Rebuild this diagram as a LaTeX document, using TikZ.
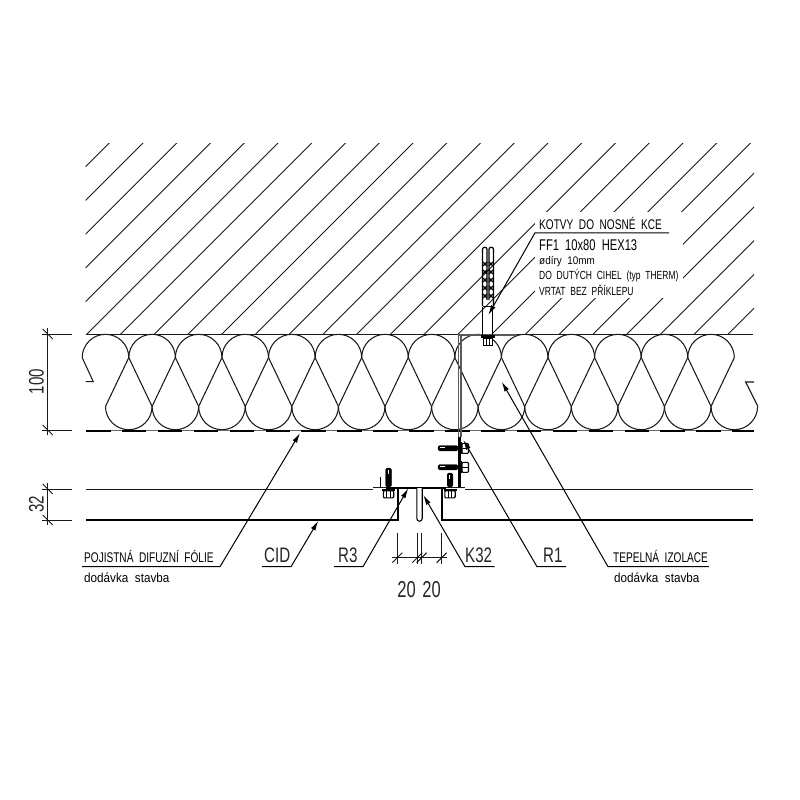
\documentclass[tikz,border=0pt]{standalone}
\usepackage{fontspec}
\setmainfont[FakeStretch=0.72,WordSpace=2]{Liberation Sans}
\newfontfamily\widefont[FakeStretch=0.9,WordSpace=2]{Liberation Sans}
\usetikzlibrary{arrows.meta}
\tikzset{
  thinline/.style={line width=.95pt,black!90},
  wool/.style={line width=1.05pt,black!90},
  heavyline/.style={line width=2pt,black},
  foil/.style={line width=2.2pt,black,dash pattern=on 24.5pt off 11.4pt},
  leader/.style={line width=1pt,-{Latex[length=10pt,width=5pt]}},
  dimtext/.style={inner sep=0pt,font=\fontsize{21}{21}\selectfont,black!85},
  captext/.style={inner sep=0pt,anchor=base west,font=\fontsize{14}{14}\selectfont},
  smalltext/.style={inner sep=0pt,anchor=base west,font=\fontsize{11.8}{12}\selectfont},
  lowtext/.style={inner sep=0pt,anchor=base west,font=\widefont\fontsize{13}{13}\selectfont},
}
\begin{document}
\begin{tikzpicture}[x=1pt,y=-1pt]
    \useasboundingbox (0,0) rectangle (800,800);
    \fill[white] (0,0) rectangle (800,800);

    % hatching of the wall
    \begin{scope}
      \clip (85.5,143.3) rectangle (754,334);
      \foreach \n in {0,...,24} \draw[thinline] ({252.3+33.75*\n},0) -- ({252.3+33.75*\n-400},400);
    \end{scope}
    \fill[white] (535,212) rectangle (683,298);
    \draw[thinline] (86,334) -- (753,334);

    % insulation
    \foreach \k in {0,...,13}{
      \pgfmathsetmacro\xa{105.5+46.58*\k}
      \pgfmathsetmacro\xb{\xa+23.29}
      \draw[wool] (\xa-23.29,357.6) arc[start angle=180,end angle=360,radius=23.29];
      \draw[wool] (\xb-23.29,406.4) arc[start angle=180,end angle=0,radius=23.29];
      \draw[wool] (\xb,357.6) -- (\xa,406.4);
    }
    \foreach \k in {0,...,12} \draw[wool] ({128.79+46.58*\k},357.6) -- ({152.08+46.58*\k},406.4);
    \draw[wool] (82.2,357.6) -- (93.3,381.7) -- (85.7,381.7);
    \draw[wool] (757.9,406.4) -- (745.7,382) -- (754,382);

    % foil and cladding
    \draw[thinline,black!60] (86,430) -- (753,430);
    \draw[foil] (86,431) -- (754,431);
    \draw[thinline] (86,489) -- (373,489);
    \draw[thinline] (465,489) -- (753,489);
    \draw[heavyline] (86,519.6) -- (397.7,519.6) -- (397.7,489);
    \draw[heavyline] (441.7,489) -- (441.7,519.6) -- (753,519.6);

    % R1 bracket
    \draw[line width=1.1pt,black!65] (517,335) -- (458.3,335) -- (458.3,437);
    \draw[line width=1.1pt,black!65] (461,336) -- (461,437);
    \draw[line width=3pt] (459.4,437) -- (459.4,487);
    \foreach \by in {448.3,467.3}{
      \draw[shift={(458,\by)},fill=black,rounded corners=1.5pt] (0,-2.6) -- (-20,-2.6) -- (-20,2.6) -- (0,2.6) -- cycle;
      \draw[shift={(458,\by)},white,line width=.8pt] (-18.5,-.6) -- (-13,-.6);
      \draw[shift={(458,\by)},line width=1.6pt] (3.4,-6) -- (3.4,6);
      \draw[shift={(458,\by)},fill=white,line width=1.1pt,rounded corners=1pt] (4,-5) rectangle (10.5,5);
      \draw[shift={(458,\by)},line width=.8pt] (4,0) -- (10.5,0);
    }

    % R3 profile
    \draw[thinline] (373,487.8) -- (465,487.8);
    \draw[heavyline] (386,487.6) -- (446,487.6);
    \draw[line width=1.1pt] (380.7,477) -- (380.7,487);
    \draw[line width=1.1pt,fill=white] (416.8,488) -- (416.8,518.5) arc[start angle=180,end angle=0,radius=2.7] -- (422.2,488);
    \foreach \bx/\btop in {388.5/468,450/473}{
      \draw[shift={(\bx,487)},fill=black,rounded corners=1.5pt] (-2.8,0) -- (-2.8,\btop-487) -- (2.8,\btop-487) -- (2.8,0) -- cycle;
      \draw[shift={(\bx,487)},white,line width=.8pt] (-.6,\btop-485) -- (-.6,\btop-481);
      \draw[shift={(\bx,487)},line width=2pt] (-6.5,2.6) -- (6.5,2.6);
      \draw[shift={(\bx,487)},fill=white,line width=1.1pt,rounded corners=1pt] (-5.2,3.8) rectangle (5.2,10.8);
      \draw[shift={(\bx,487)},line width=.8pt] (-1.7,3.8) -- (-1.7,10.8) (1.7,3.8) -- (1.7,10.8);
    }

    % FF1 anchor
    \draw[line width=1.2pt,rounded corners=2pt] (482.5,306) -- (482.5,247.3) -- (487,247.3) -- (487,300);
    \draw[line width=1.2pt,rounded corners=2pt] (489,300) -- (489,247.3) -- (493.5,247.3) -- (493.5,306);
    \foreach \ay in {264,272,280,288,296}{
      \draw[line width=1.1pt] (483,\ay-2) -- (487,\ay+2) (483,\ay+2) -- (487,\ay-2);
      \draw[line width=1.1pt] (489,\ay-2) -- (493,\ay+2) (489,\ay+2) -- (493,\ay-2);
    }
    \draw[line width=1.2pt] (482.7,306.7) -- (493.3,306.7);
    \draw[line width=1.2pt] (482.7,306.7) -- (482.7,335) (492.7,306.7) -- (492.7,335);
    \draw[line width=2.8pt] (481,336.6) -- (495,336.6);
    \draw[fill=white,line width=1pt] (483,338) rectangle (492.5,345);
    \draw[line width=.8pt] (486,338) -- (486,345) (489.5,338) -- (489.5,345);

    % dimensions
    \foreach \dy in {334,430,489,520} \draw[thinline] (42,\dy) -- (72,\dy);
    \foreach \dy in {334,430,489,520} \draw[thinline] (42.7,\dy-5) -- (52.7,\dy+5);
    \draw[thinline] (47.7,328) -- (47.7,435);
    \draw[thinline] (47.7,483) -- (47.7,525);
    \node[dimtext,rotate=90] (dimhundred) at (36.5,381.5) {100};
    \node[dimtext,rotate=90] (dimthirtytwo) at (36.5,504) {32};
    \foreach \dx in {397.3,417.3,421.7,441.7}{
      \draw[thinline] (\dx,533) -- (\dx,564);
      \draw[thinline] (\dx-5,562.7) -- (\dx+5,552.7);
    }
    \draw[thinline] (392,557.7) -- (446.7,557.7);
    \node[dimtext,font=\fontsize{23}{23}\selectfont] (dimleft) at (406.7,590) {20};
    \node[dimtext,font=\fontsize{23}{23}\selectfont] (dimright) at (431.7,590) {20};

    % leaders
    \coordinate (foilu) at (82,566.7);  \coordinate (foilv) at (220,566.7);  \coordinate (foiltip) at (300,433);
    \coordinate (cidu) at (262,566.7);  \coordinate (cidv) at (291,566.7);   \coordinate (cidtip) at (318.3,520.7);
    \coordinate (rthreeu) at (334,566.7); \coordinate (rthreev) at (363,566.7); \coordinate (rthreetip) at (408.3,488.3);
    \coordinate (kthreeu) at (494.5,566.7); \coordinate (kthreev) at (465,566.7); \coordinate (kthreetip) at (423.3,495);
    \coordinate (roneu) at (566,566.7); \coordinate (ronev) at (537,566.7);  \coordinate (ronetip) at (463.3,440);
    \coordinate (woolu) at (709,566.7); \coordinate (woolv) at (608,566.7);  \coordinate (wooltip) at (501.7,381.7);
    \coordinate (anchoru) at (669,232.8); \coordinate (anchorv) at (535,232.8); \coordinate (anchortip) at (488.3,315);
    \foreach \lab in {foil,cid,rthree,kthree,rone,wool,anchor}
      \draw[leader] (\lab u) -- (\lab v) -- (\lab tip);

    % texts
    \node[captext] (foiltext) at (84,562.7) {POJISTNÁ DIFUZNÍ FÓLIE};
    \node[lowtext] (foilnote) at (84,582) {dodávka stavba};
    \node[dimtext,anchor=base west] (cidtext) at (264,562.7) {CID};
    \node[dimtext,anchor=base west] (rthreetext) at (338,562.7) {R3};
    \node[dimtext,anchor=base west] (kthreetext) at (465,562.7) {K32};
    \node[dimtext,anchor=base west] (ronetext) at (543,562.7) {R1};
    \node[captext] (wooltext) at (613,562.7) {TEPELNÁ IZOLACE};
    \node[lowtext] (woolnote) at (614,582) {dodávka stavba};
    \node[captext] (anchortext) at (539,229) {KOTVY DO NOSNÉ KCE};
    \node[captext,font=\fontsize{15.5}{16}\selectfont] (anchortype) at (539,250) {FF1 10x80 HEX13};
    \node[lowtext,font=\widefont\fontsize{11}{12}\selectfont] (anchorhole) at (539,264) {ødíry 10mm};
    \node[smalltext] (anchorbrick) at (539,279) {DO DUTÝCH CIHEL (typ THERM)};
    \node[smalltext] (anchordrill) at (539,295) {VRTAT BEZ PŘÍKLEPU};
\end{tikzpicture}
\end{document}
